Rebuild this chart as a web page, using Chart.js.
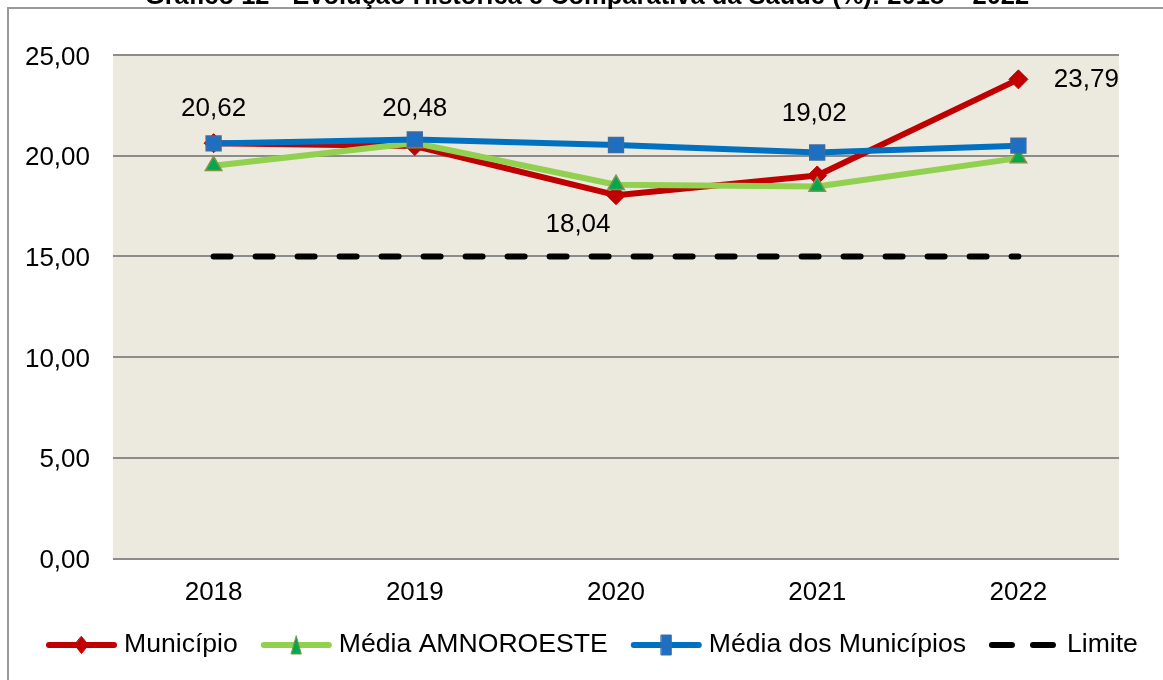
<!DOCTYPE html>
<html lang="pt-BR">
<head>
<meta charset="utf-8">
<title>Gráfico 12 - Saúde</title>
<script src="https://cdn.jsdelivr.net/npm/chart.js@4.4.1/dist/chart.umd.min.js"></script>
<style>
  html, body { margin: 0; padding: 0; background: #fff; }
  #caixa { width: 1163px; height: 680px; }
</style>
</head>
<body>
<div id="caixa"><canvas id="grafico" width="1163" height="680"></canvas></div>
<script>
// dados
var anos = ['2018', '2019', '2020', '2021', '2022'];
var municipio = [20.62, 20.48, 18.04, 19.02, 23.79];
var mediaAmnoroeste = [19.50, 20.63, 18.56, 18.47, 19.88];
var mediaMunicipios = [20.61, 20.81, 20.53, 20.16, 20.50];
var limite = [15, 15, 15, 15, 15];
var ticksY = [0, 5, 10, 15, 20, 25];
var nomes = ['Município', 'Média AMNOROESTE', 'Média dos Municípios', 'Limite'];
var titulo = 'Gráfico 12 - Evolução Histórica e Comparativa da Saúde (%): 2018 – 2022';

// deslocamento dos rótulos do Município (dx, dy) em relação ao ponto
var posRotulos = [[0, -34], [0, -37], [-38, 30], [-3, -62], [68, 0]];

var fonte = "'Liberation Sans', Arial, sans-serif";
Chart.defaults.font.family = fonte;
Chart.defaults.font.size = 26;
Chart.defaults.color = '#000';

function virgula(v) {
  return v.toFixed(2).replace('.', ',');
}

// fundo da área de plotagem, moldura e título cortado no topo
var fundo = {
  id: 'fundo',
  beforeDraw: function(chart) {
    var ctx = chart.ctx, a = chart.chartArea;
    ctx.save();
    ctx.fillStyle = '#ECE9DF';
    ctx.fillRect(a.left, a.top, a.right - a.left, a.bottom - a.top);
    ctx.strokeStyle = '#9a9a9a';
    ctx.lineWidth = 2;
    ctx.beginPath();
    ctx.moveTo(8, 680);
    ctx.lineTo(8, 8);
    ctx.lineTo(1163, 8);
    ctx.stroke();
    ctx.fillStyle = '#000';
    ctx.font = 'bold 25.5px ' + fonte;
    ctx.textAlign = 'center';
    ctx.textBaseline = 'alphabetic';
    ctx.fillText(titulo, 587, 4);
    ctx.restore();
  }
};

// rótulos de valor da série Município
var rotulos = {
  id: 'rotulos',
  afterDatasetsDraw: function(chart) {
    var ctx = chart.ctx;
    var meta = chart.getDatasetMeta(0);
    ctx.save();
    ctx.font = '26px ' + fonte;
    ctx.fillStyle = '#000';
    ctx.textAlign = 'center';
    ctx.textBaseline = 'middle';
    for (var i = 0; i < meta.data.length; i++) {
      var p = meta.data[i];
      ctx.fillText(virgula(municipio[i]), p.x + posRotulos[i][0], p.y + posRotulos[i][1]);
    }
    ctx.restore();
  }
};

function marcador(ctx, tipo, x, y, w, h, cor, borda) {
  ctx.beginPath();
  if (tipo === 'losango') {
    ctx.moveTo(x, y - h / 2); ctx.lineTo(x + w / 2, y);
    ctx.lineTo(x, y + h / 2); ctx.lineTo(x - w / 2, y);
  } else if (tipo === 'triangulo') {
    ctx.moveTo(x, y - h / 2); ctx.lineTo(x + w / 2, y + h / 2);
    ctx.lineTo(x - w / 2, y + h / 2);
  } else {
    ctx.rect(x - w / 2, y - h / 2, w, h);
  }
  ctx.closePath();
  ctx.fillStyle = cor;
  ctx.fill();
  if (borda) { ctx.strokeStyle = borda; ctx.lineWidth = 1; ctx.stroke(); }
}

// legenda desenhada à mão (a do Chart.js quebra a linha)
var legenda = {
  id: 'legenda',
  afterDraw: function(chart) {
    var ctx = chart.ctx;
    var ds = chart.data.datasets;
    var x = 46, y = 645;
    var tipos = ['losango', 'triangulo', 'retangulo', null];
    var tam = [[14, 17], [10, 18], [10, 20], null];
    ctx.save();
    ctx.font = '26.6px ' + fonte;
    ctx.textBaseline = 'middle';
    for (var i = 0; i < ds.length; i++) {
      ctx.strokeStyle = ds[i].borderColor;
      ctx.lineWidth = 6;
      ctx.lineCap = 'round';
      ctx.beginPath();
      if (tipos[i]) {
        ctx.moveTo(x + 3, y); ctx.lineTo(x + 68, y);
        ctx.stroke();
        marcador(ctx, tipos[i], x + 35.5, y, tam[i][0], tam[i][1], ds[i].pointBackgroundColor, ds[i].pointBorderColor);
      } else {
        ctx.moveTo(x + 3, y); ctx.lineTo(x + 23, y);
        ctx.moveTo(x + 44, y); ctx.lineTo(x + 64, y);
        ctx.stroke();
      }
      ctx.fillStyle = '#000';
      ctx.fillText(nomes[i], x + 78, y);
      x = x + 78 + ctx.measureText(nomes[i]).width + 23;
    }
    ctx.restore();
  }
};

var grafico = new Chart(document.getElementById('grafico'), {
  type: 'line',
  data: {
    labels: anos,
    datasets: [{
      label: nomes[0],
      data: municipio,
      borderColor: '#C00000',
      borderWidth: 6,
      pointStyle: 'rectRot',
      pointRadius: 9.5,
      pointBackgroundColor: '#C00000',
      pointBorderColor: '#C00000',
      pointBorderWidth: 1,
      order: 4
    }, {
      label: nomes[1],
      data: mediaAmnoroeste,
      borderColor: '#92D050',
      borderWidth: 6,
      pointStyle: 'triangle',
      pointRadius: 9.5,
      pointBackgroundColor: '#00A84F',
      pointBorderColor: '#7F9548',
      pointBorderWidth: 1.5,
      order: 3
    }, {
      label: nomes[2],
      data: mediaMunicipios,
      borderColor: '#0070C0',
      borderWidth: 6,
      pointStyle: 'rect',
      pointRadius: 10.5,
      pointBackgroundColor: '#1E6EC2',
      pointBorderColor: '#3D6CA3',
      pointBorderWidth: 1.5,
      order: 2
    }, {
      label: nomes[3],
      data: limite,
      borderColor: '#000',
      borderWidth: 6,
      borderDash: [17, 25],
      borderCapStyle: 'round',
      pointRadius: 0,
      order: 1
    }]
  },
  options: {
    responsive: false,
    animation: false,
    events: [],
    elements: { line: { tension: 0, borderJoinStyle: 'round', fill: false } },
    layout: { padding: { left: 0, right: 44, top: 55, bottom: 0 } },
    plugins: {
      legend: { display: false },
      title: { display: false },
      tooltip: { enabled: false }
    },
    scales: {
      x: {
        offset: true,
        grid: { display: false },
        border: { display: false },
        ticks: { padding: 11, font: { size: 26 } },
        afterFit: function(s) { s.height = 121.5; }
      },
      y: {
        min: 0,
        max: 25,
        afterBuildTicks: function(s) {
          s.ticks = ticksY.map(function(v) { return { value: v }; });
        },
        grid: { color: '#8c8c8c', lineWidth: 2, drawTicks: false },
        border: { display: false },
        ticks: {
          padding: 23,
          labelOffset: 2.5,
          font: { size: 26 },
          callback: function(v) { return virgula(v); }
        },
        afterFit: function(s) { s.width = 113; }
      }
    }
  },
  plugins: [fundo, rotulos, legenda]
});
</script>
</body>
</html>
